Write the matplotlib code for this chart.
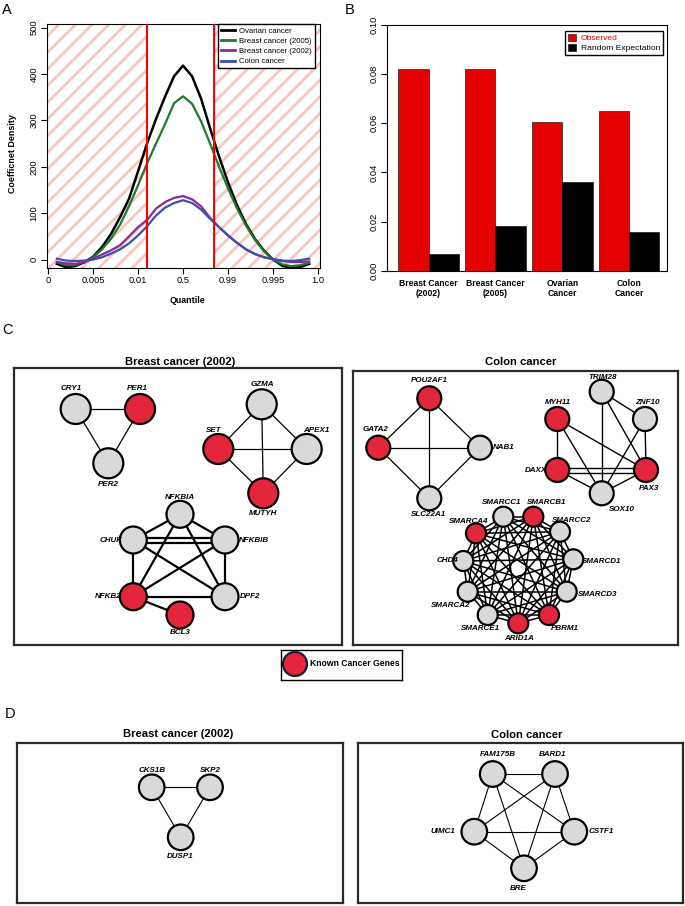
import numpy as np
import matplotlib
matplotlib.use('Agg')
import matplotlib.pyplot as plt
from matplotlib.patches import Circle, Rectangle
from matplotlib.lines import Line2D
from itertools import combinations
from collections import Counter

plt.rcParams['font.family'] = ['Liberation Sans', 'DejaVu Sans']
plt.rcParams['hatch.linewidth'] = 2.0

# ---------------- panel A: coefficient density ----------------
quantile_labels = ['0', '0.005', '0.01', '0.5', '0.99', '0.995', '1.0']
grid_x = [0.2, 0.4, 0.6, 0.8, 1.0, 1.2, 1.4, 1.6, 1.8, 2.0, 2.2, 2.4, 2.6, 2.8, 3.0,
          3.2, 3.4, 3.6, 3.8, 4.0, 4.2, 4.4, 4.6, 4.8, 5.0, 5.2, 5.4, 5.6, 5.8]
ovarian = [-9, -16, -14, -6, 6, 27, 55, 91, 131, 190, 250, 303, 351, 395, 418,
           395, 347, 283, 222, 166, 117, 76, 44, 19, 0, -13, -18, -16, -9]
breast_2005 = [-6, -12, -12, -5, 5, 22, 45, 75, 115, 160, 207, 250, 292, 337, 352,
               336, 298, 250, 200, 153, 110, 73, 42, 18, 0, -10, -14, -12, -7]
breast_2002 = [-5, -8, -9, -6, 2, 11, 20, 31, 50, 70, 85, 110, 124, 133, 137,
               130, 115, 90, 70, 52, 36, 22, 12, 5, 1, -3, -5, -5, -4]
colon = [2, -2, -3, -2, 0, 5, 13, 22, 35, 52, 72, 95, 112, 122, 128,
         122, 108, 88, 70, 52, 36, 22, 12, 5, 1, -2, -3, -1, 2]
cutoffs = [2.2, 3.68]

# ---------------- panel B: overlap with known cancer genes ----------------
datasets = ['Breast Cancer\n(2002)', 'Breast Cancer\n(2005)', 'Ovarian\nCancer', 'Colon\nCancer']
observed = [0.0821, 0.0820, 0.0604, 0.0650]
random_exp = [0.0069, 0.0184, 0.0363, 0.0160]

# ---------------- panel C / D: modules (node layout in figure pixels) ----------------
c_breast_nodes = {
    'CRY1': (75.7, 409), 'PER1': (140, 409), 'PER2': (108.3, 463.3),
    'GZMA': (261.7, 404.3), 'SET': (218.3, 449), 'APEX1': (306.7, 449), 'MUTYH': (263.3, 493.3),
    'NFKBIA': (180, 514.3), 'CHUK': (133.3, 540), 'NFKBIB': (225, 540),
    'NFKB2': (133.3, 596.7), 'DPF2': (225, 596.7), 'BCL3': (180, 615),
}
c_breast_known = ['PER1', 'SET', 'MUTYH', 'NFKB2', 'BCL3']
c_breast_modules = [
    ['CRY1', 'PER1', 'PER2'],
    ['GZMA', 'SET', 'APEX1', 'MUTYH'],
    ['NFKBIA', 'CHUK', 'NFKBIB', 'NFKB2', 'DPF2', 'BCL3'],
]
c_breast_edges = [
    [('CRY1', 'PER1'), ('CRY1', 'PER2'), ('PER1', 'PER2')],
    list(combinations(['GZMA', 'SET', 'APEX1', 'MUTYH'], 2)),
    list(combinations(['NFKBIA', 'CHUK', 'NFKBIB', 'NFKB2', 'DPF2'], 2))
    + [('CHUK', 'NFKBIB'), ('NFKB2', 'BCL3')],
]
c_breast_labels = {
    'CRY1': (-4, -20, 'center'), 'PER1': (-3, -20, 'center'), 'PER2': (0, 21, 'center'),
    'GZMA': (1, -20, 'center'), 'SET': (-5, -19, 'center'), 'APEX1': (10, -19, 'center'),
    'MUTYH': (0, 20, 'center'), 'NFKBIA': (0, -17, 'center'), 'CHUK': (-11, 0, 'right'),
    'NFKBIB': (14, 0, 'left'), 'NFKB2': (-12, 0, 'right'), 'DPF2': (15, 0, 'left'),
    'BCL3': (0, 18, 'center'),
}

swi_snf = ['SMARCC1', 'SMARCB1', 'SMARCC2', 'SMARCD1', 'SMARCD3', 'PBRM1',
           'ARID1A', 'SMARCE1', 'SMARCA2', 'CHD4', 'SMARCA4']
c_colon_nodes = {
    'POU2AF1': (429.3, 398.3), 'GATA2': (378.3, 447.7), 'NAB1': (480, 447.7), 'SLC22A1': (429.3, 498.3),
    'TRIM28': (601.7, 391.7), 'ZNF10': (645, 419), 'MYH11': (557.3, 419),
    'DAXX': (557.3, 470), 'PAX3': (646, 470), 'SOX10': (601.7, 493.3),
    'SMARCC1': (503.3, 516.7), 'SMARCB1': (533.3, 516.7), 'SMARCC2': (560, 531.7),
    'SMARCD1': (573.3, 559.3), 'SMARCD3': (566.7, 591.7), 'PBRM1': (549, 615),
    'ARID1A': (518.3, 623.3), 'SMARCE1': (487.7, 615), 'SMARCA2': (467.7, 591.7),
    'CHD4': (463.3, 561), 'SMARCA4': (476, 533.3),
}
c_colon_known = ['POU2AF1', 'GATA2', 'MYH11', 'DAXX', 'PAX3', 'SMARCB1', 'SMARCA4', 'ARID1A', 'PBRM1']
c_colon_modules = [
    ['POU2AF1', 'GATA2', 'NAB1', 'SLC22A1'],
    ['TRIM28', 'ZNF10', 'MYH11', 'DAXX', 'PAX3', 'SOX10'],
    swi_snf,
]
c_colon_edges = [
    list(combinations(['POU2AF1', 'GATA2', 'NAB1', 'SLC22A1'], 2)),
    [('MYH11', 'DAXX'), ('MYH11', 'PAX3'), ('MYH11', 'SOX10'), ('TRIM28', 'SOX10'),
     ('TRIM28', 'ZNF10'), ('TRIM28', 'PAX3'), ('ZNF10', 'PAX3'), ('ZNF10', 'SOX10'),
     ('DAXX', 'PAX3'), ('DAXX', 'PAX3'), ('DAXX', 'SOX10'), ('PAX3', 'SOX10')],
    list(combinations(swi_snf, 2)),
]
c_colon_labels = {
    'POU2AF1': (0, -18, 'center'), 'GATA2': (-3, -18, 'center'), 'NAB1': (13, 0, 'left'),
    'SLC22A1': (-1, 16, 'center'), 'TRIM28': (1, -14, 'center'), 'ZNF10': (2, -16, 'center'),
    'MYH11': (1, -16, 'center'), 'DAXX': (-10, 0, 'right'), 'PAX3': (3, 18, 'center'),
    'SOX10': (20, 16, 'center'), 'SMARCC1': (-2, -14, 'center'), 'SMARCB1': (13, -14, 'center'),
    'SMARCC2': (12, -11, 'center'), 'SMARCD1': (9, 2, 'left'), 'SMARCD3': (11, 3, 'left'),
    'PBRM1': (16, 14, 'center'), 'ARID1A': (1, 15, 'center'), 'SMARCE1': (-7, 14, 'center'),
    'SMARCA2': (-17, 14, 'center'), 'CHD4': (-5, 0, 'right'), 'SMARCA4': (-7, -12, 'center'),
}

d_breast_nodes = {'CKS1B': (151.7, 787.3), 'SKP2': (210, 787.3), 'DUSP1': (180.7, 837.3)}
d_breast_modules = [['CKS1B', 'SKP2', 'DUSP1']]
d_breast_edges = [[('CKS1B', 'SKP2'), ('CKS1B', 'DUSP1'), ('SKP2', 'DUSP1')]]
d_breast_labels = {'CKS1B': (0, -17, 'center'), 'SKP2': (0, -17, 'center'), 'DUSP1': (0, 19, 'center')}

d_colon_nodes = {'FAM175B': (492.7, 774), 'BARD1': (555, 774), 'UIMC1': (474.3, 831.7),
                 'CSTF1': (574.3, 831.7), 'BRE': (524, 868.3)}
d_colon_modules = [['FAM175B', 'BARD1', 'UIMC1', 'CSTF1', 'BRE']]
d_colon_edges = [list(combinations(['FAM175B', 'BARD1', 'UIMC1', 'CSTF1', 'BRE'], 2))]
d_colon_labels = {'FAM175B': (5, -19, 'center'), 'BARD1': (-2, -19, 'center'),
                  'UIMC1': (-19, 0, 'right'), 'CSTF1': (14, 0, 'left'), 'BRE': (-6, 20, 'center')}

W, H = 685, 906
RED = '#e3263a'
GRAY = '#d9d9d9'

fig = plt.figure(figsize=(W / 100, H / 100), dpi=100)


def px_axes(x0, y0, x1, y1):
    return fig.add_axes([x0 / W, 1 - y1 / H, (x1 - x0) / W, (y1 - y0) / H])


# ---------------- A ----------------
axA = px_axes(47, 24.3, 320, 268)
for lo, hi in [(-1, cutoffs[0]), (cutoffs[1], 7)]:
    axA.axvspan(lo, hi, facecolor='none', edgecolor='#f9c6c0', hatch='//', linewidth=0, zorder=0)
line_cols = ['black', '#1e7b2c', '#8e2a8e', '#3a4fb0']
series = [ovarian, breast_2005, breast_2002, colon]
names = ['Ovarian cancer', 'Breast cancer (2005)', 'Breast cancer (2002)', 'Colon cancer']
handles = []
for ys, c, nm in zip(series, line_cols, names):
    ln, = axA.plot(grid_x, ys, color=c, lw=1.8 if c == 'black' else 1.6, label=nm, zorder=3)
    handles.append(ln)
for c in cutoffs:
    axA.axvline(c, color='#ff0000', lw=1.5, zorder=4)
axA.set_xlim(-0.02, 6.04)
axA.set_ylim(-18, 507)
axA.set_xticks(range(7))
axA.set_xticklabels(quantile_labels)
axA.set_yticks(range(0, 501, 100))
axA.tick_params(labelsize=6.7, length=4, width=0.8, pad=2)
axA.tick_params(axis='y', labelrotation=90)
for t in axA.get_yticklabels():
    t.set_va('center')
for s in axA.spines.values():
    s.set_linewidth(0.8)
axA.set_xlabel('Quantile', fontsize=6.4, fontweight='bold')
axA.xaxis.set_label_coords(0.516, -0.115)
axA.set_ylabel('Coefficnet Density', fontsize=6.4, fontweight='bold')
axA.yaxis.set_label_coords(-0.11, 0.47)
legA = axA.legend(handles=handles, loc='upper right', bbox_to_anchor=(0.982, 1.0), borderaxespad=0,
                  fontsize=5.6, fancybox=False, edgecolor='black', framealpha=1,
                  handlelength=1.8, handletextpad=0.5, labelspacing=0.35, borderpad=0.4)
legA.get_frame().set_linewidth(1.0)
for ln in legA.get_lines():
    ln.set_linewidth(2)

# ---------------- B ----------------
axB = px_axes(387, 24.5, 667, 271)
red_x = 0.37 + 0.5 + 2.2 * np.arange(len(datasets))
blk_x = red_x + 1
axB.bar(red_x, observed, width=1, color='#e50000', edgecolor='black', linewidth=0.4, label='Observed')
axB.bar(blk_x, random_exp, width=1, color='black', edgecolor='black', linewidth=0.4, label='Random Expectation')
axB.set_xlim(0, 9.22)
axB.set_ylim(0, 0.10)
axB.set_yticks(np.arange(0, 0.101, 0.02))
axB.set_yticklabels(['%.2f' % v for v in np.arange(0, 0.101, 0.02)])
axB.set_xticks(red_x + 0.5)
axB.set_xticklabels(datasets, fontweight='bold', fontsize=6.2, linespacing=1.15)
axB.tick_params(axis='x', length=0, pad=6)
axB.tick_params(axis='y', labelsize=6.7, length=4, width=0.8, pad=2, labelrotation=90)
for t in axB.get_yticklabels():
    t.set_va('center')
for s in axB.spines.values():
    s.set_linewidth(0.8)
legB = axB.legend(loc='upper right', bbox_to_anchor=(0.986, 0.974), borderaxespad=0, fontsize=6.1,
                  fancybox=False, edgecolor='black', framealpha=1, handlelength=0.9, handleheight=0.9,
                  handletextpad=0.6, labelspacing=0.15, borderpad=0.35)
legB.get_frame().set_linewidth(1.0)
legB.get_texts()[0].set_color('#e50000')


# ---------------- C / D networks ----------------
def draw_network(box, title, title_xy, nodes, known, modules, edges, labels, radii, widths):
    x0, y0, x1, y1 = box
    ax = px_axes(x0, y0, x1, y1)
    ax.set_xlim(x0, x1)
    ax.set_ylim(y1, y0)
    ax.set_xticks([])
    ax.set_yticks([])
    for s in ax.spines.values():
        s.set_linewidth(1.6)
        s.set_color('#2b2b2b')
    ax.text(title_xy[0], title_xy[1], title, ha='center', va='center', fontsize=8.1,
            fontweight='bold', clip_on=False)
    for members, pairs, r, lw in zip(modules, edges, radii, widths):
        for (a, b), k in Counter(pairs).items():
            (xa, ya), (xb, yb) = nodes[a], nodes[b]
            L = np.hypot(xb - xa, yb - ya)
            nx, ny = -(yb - ya) / L, (xb - xa) / L
            for o in ([0] if k == 1 else [-2.5, 2.5]):
                ax.plot([xa + o * nx, xb + o * nx], [ya + o * ny, yb + o * ny],
                        color='black', lw=lw, zorder=1, solid_capstyle='butt')
        for n in members:
            ax.add_patch(Circle(nodes[n], r, facecolor=RED if n in known else GRAY,
                                edgecolor='black', lw=1.6, zorder=3))
    for n, (dx, dy, ha) in labels.items():
        x, y = nodes[n]
        ax.text(x + dx, y + dy, n, ha=ha, va='center', fontsize=5.8, fontweight='bold',
                fontstyle='italic', zorder=4)
    return ax


draw_network((14, 368.3, 342.3, 645), 'Breast cancer (2002)', (180, 362), c_breast_nodes, c_breast_known,
             c_breast_modules, c_breast_edges, c_breast_labels, [15, 15, 13.5], [0.9, 0.9, 1.6])
draw_network((353, 370.7, 678, 645), 'Colon cancer', (521, 362), c_colon_nodes, c_colon_known,
             c_colon_modules, c_colon_edges, c_colon_labels, [12, 12, 10], [0.9, 1.0, 1.1])
draw_network((17, 743, 343, 903), 'Breast cancer (2002)', (178, 734), d_breast_nodes, [],
             d_breast_modules, d_breast_edges, d_breast_labels, [12.8], [0.8])
draw_network((358, 743, 683, 903), 'Colon cancer', (527, 735), d_colon_nodes, [],
             d_colon_modules, d_colon_edges, d_colon_labels, [12.8], [0.8])

# legend for known cancer genes
axK = px_axes(281, 650, 402, 680)
axK.set_xlim(281, 402)
axK.set_ylim(680, 650)
axK.set_xticks([])
axK.set_yticks([])
for s in axK.spines.values():
    s.set_linewidth(1.0)
axK.add_patch(Circle((295, 664), 12, facecolor=RED, edgecolor='#1c1c30', lw=1.6))
axK.text(310, 664, 'Known Cancer Genes', ha='left', va='center', fontsize=6.2, fontweight='bold')

# panel letters
for letter, (x, y) in zip('ABCD', [(2, 3), (345, 3), (2, 323), (5, 707)]):
    fig.text(x / W, 1 - y / H, letter, ha='left', va='top', fontsize=10.5)

fig.savefig('out.png', dpi=100)
